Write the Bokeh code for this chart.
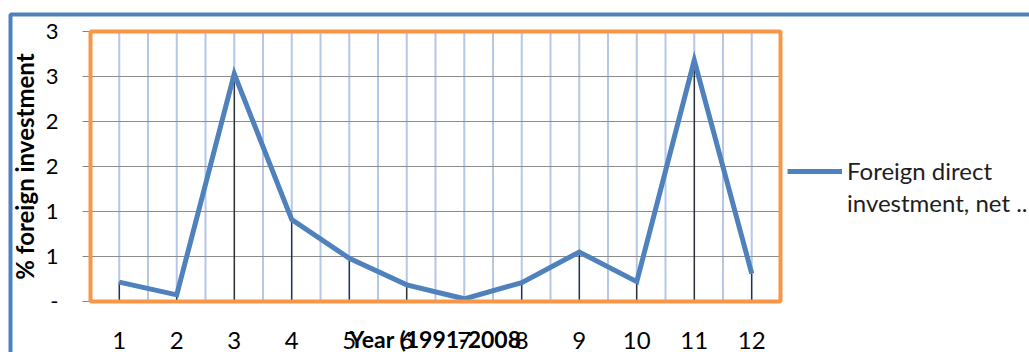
from bokeh.plotting import figure
from bokeh.models import (FixedTicker, LinearAxis, BoxAnnotation, Legend,
                          LegendItem, Range1d)
from bokeh.embed import file_html
from bokeh.resources import INLINE

# ---- data ----
years = [1, 2, 3, 4, 5, 6, 7, 8, 9, 10, 11, 12]
year_labels = ["1", "2", "3", "4", "5", "6", "7", "8", "9", "10", "11", "12"]
fdi_values = [0.215, 0.074, 2.53, 0.91, 0.48, 0.185, 0.03, 0.21, 0.55, 0.22, 2.68, 0.31]
ytick_values = [0, 0.5, 1, 1.5, 2, 2.5, 3]
ytick_labels = ["-", "1", "1", "2", "2", "3", "3"]
legend_lines = ["Foreign direct", "investment, net .."]
x_title = "Year (1991-2008"
y_title = "% foreign investment"

FONT = "Lato"
BLUE = "#4F81BD"
ORANGE = "#F79646"

# ---- layout: plot area in canvas pixels ----
W, H = 1029, 352
PL, PR, PT, PB = 90, 780, 31, 301
xmin, xmax = years[0] - 0.5, years[-1] + 0.5
ymin, ymax = ytick_values[0], ytick_values[-1]
sx = (PR - PL) / (xmax - xmin)
sy = (PB - PT) / (ymax - ymin)
x_range = Range1d(xmin - PL / sx, xmin + (W - PL) / sx)
y_range = Range1d(ymin - (H - PB) / sy, ymax + PT / sy)

p = figure(width=W, height=H, output_backend="svg", toolbar_location=None,
           x_axis_location=None, y_axis_location=None,
           x_range=x_range, y_range=y_range,
           min_border=0)
p.background_fill_color = "white"
p.border_fill_color = "white"
p.outline_line_color = None
p.xgrid.visible = False
p.ygrid.visible = False

# gridlines (limited to plot area)
xgrid_ticks = sorted(set([y - 0.5 for y in years] + years + [xmax]))
p.segment(x0=xgrid_ticks, y0=[ymin] * len(xgrid_ticks), x1=xgrid_ticks,
          y1=[ymax] * len(xgrid_ticks), line_color="#B4C7E7", line_width=2)
p.segment(x0=[xmin] * len(ytick_values), y0=ytick_values,
          x1=[xmax] * len(ytick_values), y1=ytick_values,
          line_color="#8C8C8C", line_width=1)

# y axis
ya = LinearAxis(fixed_location=xmin, bounds=(ymin, ymax),
                ticker=FixedTicker(ticks=ytick_values))
ya.major_label_overrides = {v: l for v, l in zip(ytick_values, ytick_labels)}
ya.major_tick_out = 8
ya.major_tick_in = 0
ya.minor_tick_out = 0
ya.minor_tick_in = 0
ya.major_tick_line_color = "#868686"
ya.axis_line_color = "#868686"
ya.major_label_standoff = 24
ya.major_label_text_font = FONT
ya.major_label_text_font_size = "22px"
ya.major_label_text_color = "#000000"
ya.axis_label = y_title
ya.axis_label_text_font = FONT
ya.axis_label_text_font_size = "24px"
ya.axis_label_text_font_style = "bold"
ya.axis_label_text_color = "#000000"
ya.axis_label_standoff = 4
p.add_layout(ya, "left")

# x axis
xa = LinearAxis(fixed_location=ymin, bounds=(xmin, xmax),
                ticker=FixedTicker(ticks=years))
xa.major_label_overrides = {v: l for v, l in zip(years, year_labels)}
xa.major_tick_out = 0
xa.major_tick_in = 0
xa.minor_tick_out = 0
xa.minor_tick_in = 0
xa.axis_line_color = None
xa.major_label_standoff = 30
xa.major_label_text_font = FONT
xa.major_label_text_font_size = "24px"
xa.major_label_text_color = "#000000"
xa.axis_label = x_title
xa.axis_label_text_font = FONT
xa.axis_label_text_font_size = "23px"
xa.axis_label_text_font_style = "bold"
xa.axis_label_text_color = "#000000"
xa.axis_label_standoff = -27
p.add_layout(xa, "below")

# drop lines
p.segment(x0=years, y0=[0] * len(years), x1=years, y1=fdi_values,
          line_color="black", line_width=1)
# main series
r = p.line(years, fdi_values, line_color=BLUE, line_width=5, line_join="miter")
# invisible renderer carrying the legend's second text line
r_blank = p.line([], [], line_alpha=0)

# plot-area border
p.add_layout(BoxAnnotation(left=xmin, right=xmax, bottom=ymin, top=ymax,
                           fill_color=None, line_color=ORANGE, line_alpha=1.0,
                           line_width=4))
# outer chart border
p.add_layout(BoxAnnotation(left=10, right=W + 50, bottom=-50, top=H - 14,
                           left_units="screen", right_units="screen",
                           bottom_units="screen", top_units="screen",
                           fill_color=None, line_color=BLUE, line_alpha=1.0,
                           line_width=4))

legend = Legend(items=[LegendItem(label=legend_lines[0], renderers=[r]),
                       LegendItem(label=legend_lines[1], renderers=[r_blank])],
                location=(787, 135), padding=0, margin=0, spacing=3,
                glyph_width=55, glyph_height=20,
                label_standoff=5, border_line_color=None,
                background_fill_alpha=0, label_text_font=FONT,
                label_text_font_size="24px", label_text_color="#1E1E1E")
p.add_layout(legend)

open("out.html", "w").write(file_html(p, INLINE))
